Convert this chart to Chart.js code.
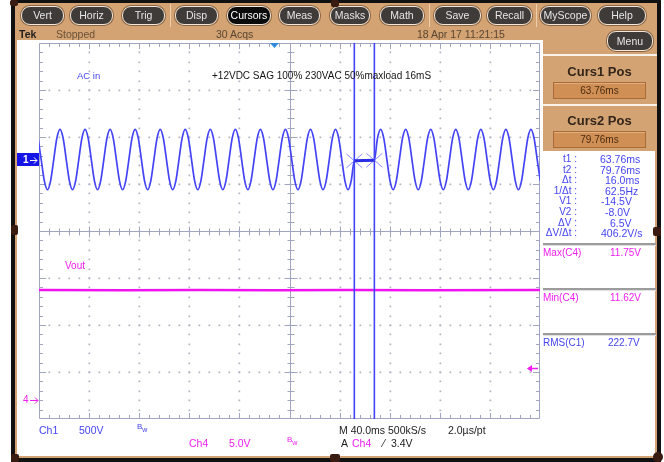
<!DOCTYPE html>
<html>
<head>
<meta charset="utf-8">
<title>Scope capture – 12VDC sag test</title>
<script src="https://cdn.jsdelivr.net/npm/chart.js@4.4.1/dist/chart.umd.min.js"></script>
<style>
  html, body { margin: 0; padding: 0; background: #fff; }
  #scope { position: relative; width: 664px; height: 462px; overflow: hidden; background: #fff;
           font-family: "Liberation Sans", Arial, sans-serif; }
  .blk { position: absolute; }
  #plot { position: absolute; left: 0; top: 0; z-index: 2; }
  .t { position: absolute; z-index: 3; white-space: nowrap; line-height: 1; }
  .btn { position: absolute; top: 6px; height: 19px; box-sizing: border-box; border-radius: 9px;
         background: #3f3b38; border: 1px solid #f4e8dc; color: #e6e6e6; font-size: 10.5px;
         line-height: 17px; text-align: center; z-index: 3; box-shadow: 0 0 0 1px #8a6440; }
  .btn.on { background: #0b0b0b; color: #fff; }
  .sep { position: absolute; top: 4px; width: 1px; height: 23px; background: #efcfaa; z-index: 3; }
  .rv { position: absolute; background: #3a1b12; border-radius: 2px; z-index: 4; }
  .blue { color: #4545f2; }
  .mag { color: #f01ef0; }
  .stat { font-size: 10.5px; color: #5a4631; }
  .lab { font-size: 10px; text-align: right; right: 87px; }
  .val { font-size: 10.5px; }
  .hdr { font-size: 13px; font-weight: bold; color: #33251a; width: 113px; left: 543px; text-align: center; }
  .vbox { position: absolute; left: 553px; width: 93px; height: 17px; box-sizing: border-box;
          background: #d08f55; border: 1px solid #a96c38; box-shadow: inset 0 1px 0 #e2ae7e;
          color: #4a2b10; font-size: 10px; line-height: 15px; text-align: center; z-index: 3; }
  .hline { position: absolute; left: 543px; width: 113px; height: 2px; background: #9c9c9c;
           border-bottom: 1px solid #e0e0e0; z-index: 3; }
</style>
</head>
<body>
<div id="scope">
  <!-- bezel and panels -->
  <div class="blk" style="left:11px;top:0;width:650px;height:40px;background:#d3a373"></div>
  <div class="blk" style="left:543px;top:40px;width:114px;height:111px;background:#d3a373"></div>
  <div class="blk" style="left:543px;top:54px;width:114px;height:2px;background:#fbf3ea"></div>
  <div class="blk" style="left:543px;top:104px;width:114px;height:2px;background:#fbf3ea"></div>
  <div class="blk" style="left:11px;top:0;width:650px;height:3px;background:#111"></div>
  <div class="blk" style="left:11px;top:0;width:4px;height:462px;background:#111"></div>
  <div class="blk" style="left:15px;top:40px;width:2px;height:418px;background:#d3a373"></div>
  <div class="blk" style="left:657px;top:0;width:4px;height:462px;background:#111"></div>
  <div class="blk" style="left:655px;top:151px;width:2px;height:307px;background:#d3a373"></div>
  <div class="blk" style="left:15px;top:456px;width:642px;height:2px;background:#d3a373"></div>
  <div class="blk" style="left:11px;top:458px;width:650px;height:4px;background:#111"></div>

  <div class="rv" style="left:10px;top:0;width:8px;height:6px"></div>
  <div class="rv" style="left:331px;top:0;width:8px;height:7px"></div>
  <div class="rv" style="left:11px;top:225px;width:7px;height:10px"></div>
  <div class="rv" style="left:653px;top:227px;width:8px;height:9px"></div>
  <div class="rv" style="left:11px;top:454px;width:8px;height:8px"></div>
  <div class="rv" style="left:330px;top:454px;width:10px;height:8px"></div>
  <div class="rv" style="left:653px;top:452px;width:10px;height:10px;border-radius:5px"></div>

  <!-- toolbar -->
  <div class="btn" style="left:21px;width:43px">Vert</div>
  <div class="btn" style="left:70px;width:43px">Horiz</div>
  <div class="btn" style="left:122px;width:43px">Trig</div>
  <div class="sep" style="left:170px"></div>
  <div class="btn" style="left:175px;width:43px">Disp</div>
  <div class="btn on" style="left:227px;width:44px">Cursors</div>
  <div class="btn" style="left:279px;width:41px">Meas</div>
  <div class="btn" style="left:330px;width:40px">Masks</div>
  <div class="btn" style="left:380px;width:44px">Math</div>
  <div class="sep" style="left:429px"></div>
  <div class="btn" style="left:434px;width:47px">Save</div>
  <div class="btn" style="left:487px;width:45px">Recall</div>
  <div class="sep" style="left:536px"></div>
  <div class="btn" style="left:540px;width:51px">MyScope</div>
  <div class="btn" style="left:598px;width:48px">Help</div>
  <div class="btn" style="left:607px;top:31px;width:46px;height:20px;line-height:18px">Menu</div>

  <!-- status row -->
  <div class="t stat" style="left:19px;top:29px;color:#1e1e1e;font-weight:bold">Tek</div>
  <div class="t stat" style="left:56px;top:29px;color:#6a5238">Stopped</div>
  <div class="t stat" style="left:216px;top:29px">30 Acqs</div>
  <div class="t stat" style="left:417px;top:29px">18 Apr 17 11:21:15</div>

  <!-- cursor panel -->
  <div class="t hdr" style="top:65px">Curs1 Pos</div>
  <div class="vbox" style="top:82px">63.76ms</div>
  <div class="t hdr" style="top:114px">Curs2 Pos</div>
  <div class="vbox" style="top:131px">79.76ms</div>

  <div class="t blue lab" style="top:154px">t1 :</div>
  <div class="t blue lab" style="top:164.6px">t2 :</div>
  <div class="t blue lab" style="top:175.2px">Δt :</div>
  <div class="t blue lab" style="top:185.8px">1/Δt :</div>
  <div class="t blue lab" style="top:196.4px">V1 :</div>
  <div class="t blue lab" style="top:207px">V2 :</div>
  <div class="t blue lab" style="top:217.6px">ΔV :</div>
  <div class="t blue lab" style="top:228.2px">ΔV/Δt :</div>
  <div class="t blue val" style="left:600px;top:154px">63.76ms</div>
  <div class="t blue val" style="left:600px;top:164.6px">79.76ms</div>
  <div class="t blue val" style="left:605px;top:175.2px">16.0ms</div>
  <div class="t blue val" style="left:605px;top:185.8px">62.5Hz</div>
  <div class="t blue val" style="left:601px;top:196.4px">-14.5V</div>
  <div class="t blue val" style="left:605px;top:207px">-8.0V</div>
  <div class="t blue val" style="left:610px;top:217.6px">6.5V</div>
  <div class="t blue val" style="left:601px;top:228.2px">406.2V/s</div>

  <div class="hline" style="top:243px"></div>
  <div class="t mag val" style="left:543px;top:248px;font-size:10px">Max(C4)</div>
  <div class="t mag val" style="left:610px;top:248px;font-size:10px">11.75V</div>
  <div class="hline" style="top:288px"></div>
  <div class="t mag val" style="left:543px;top:293px;font-size:10px">Min(C4)</div>
  <div class="t mag val" style="left:610px;top:293px;font-size:10px">11.62V</div>
  <div class="hline" style="top:333px"></div>
  <div class="t blue val" style="left:543px;top:338px;font-size:10px">RMS(C1)</div>
  <div class="t blue val" style="left:608px;top:338px;font-size:10px">222.7V</div>

  <!-- trace annotations -->
  <div class="t blue" style="left:77px;top:71px;font-size:9.5px">AC in</div>
  <div class="t" style="left:212px;top:71px;font-size:10px;color:#151515">+12VDC SAG 100% 230VAC 50%maxload 16mS</div>
  <div class="t mag" style="left:65px;top:261px;font-size:10px">Vout</div>

  <!-- channel / timebase readouts -->
  <div class="t blue" style="left:39px;top:425px;font-size:10.5px">Ch1</div>
  <div class="t blue" style="left:79px;top:425px;font-size:10.5px">500V</div>
  <div class="t blue" style="left:137px;top:423px;font-size:8px">B<sub style="font-size:7px">w</sub></div>
  <div class="t mag" style="left:189px;top:438px;font-size:10.5px">Ch4</div>
  <div class="t mag" style="left:229px;top:438px;font-size:10.5px">5.0V</div>
  <div class="t mag" style="left:287px;top:436px;font-size:8px">B<sub style="font-size:7px">w</sub></div>
  <div class="t" style="left:339px;top:425px;font-size:10.5px;color:#222">M 40.0ms 500kS/s</div>
  <div class="t" style="left:448px;top:425px;font-size:10.5px;color:#222">2.0µs/pt</div>
  <div class="t" style="left:341px;top:438px;font-size:10.5px;color:#222">A</div>
  <div class="t mag" style="left:352px;top:438px;font-size:10.5px">Ch4</div>
  <div class="t" style="left:383px;top:438px;font-size:10.5px;color:#222">⁄</div>
  <div class="t" style="left:391px;top:438px;font-size:10.5px;color:#222">3.4V</div>

  <canvas id="plot" width="664" height="462"></canvas>
</div>

<script>
// ---- acquisition record -------------------------------------------------
// Ch1 (AC input, volts) stored every 2.5 ms; line drops out between the cursors
const sampleMs = 2.5;
const acBeforeStart = -188.74;
const acBefore = [
  227, 0, -227, -321, -227,
  0, 227, 321, 227, 0, -227, -321, -227,
  0, 227, 321, 227, 0, -227, -321, -227,
  0, 227, 321, 227, 0, -227, -321, -227,
  0, 227, 321, 227, 0, -227, -321, -227,
  0, 227, 321, 227, 0, -227, -321, -227,
  0, 227, 321, 227, 0, -227, -321, -227,
  0, 227, 321, 227, 0, -227, -321, -227,
  0, 227, 321, 227, 0, -227, -321, -227,
  0, 227, 321, 227, 0, -227, -321, -227,
  0, 227, 321, 227, 0, -227, -321, -227,
  0, 227, 321, 227, 0, -227, -321, -227,
  0, 227, 321, 227, 0, -227, -321, -227,
  -14.5
];
const gapTimes = [67.76, 71.76, 75.76];
const gapVolts = [-13.2, -11.6, -9.9];
const acAfterStart = 79.76;
const acAfter = [
  -8.0, 227, 321, 227, 0, -227, -321, -227,
  0, 227, 321, 227, 0, -227, -321, -227,
  0, 227, 321, 227, 0, -227, -321, -227,
  0, 227, 321, 227, 0, -227, -321, -227,
  0, 227, 321, 227, 0, -227, -321, -227,
  0, 227, 321, 227, 0, -227, -321, -227,
  0, 227, 321, 227, 0, -227
];

// Ch4 (12 V output, volts)
const voutTimes = [-188, -120, -60, 0, 60, 120, 212];
const voutVolts = [11.70, 11.68, 11.71, 11.69, 11.70, 11.68, 11.70];

// cursors (ms, volts on Ch1), trigger (ms, Ch4 level)
const cursorTimes = [63.76, 79.76];
const cursorVolts = [-14.5, -8.0];
const triggerTime = 0;
const triggerLevel = 3.4;

// vertical settings: volts per division and screen position of each ground
const ch1Range = [-2760.6, 1239.4];   // 500 V/div
const ch4Range = [-2.02, 37.98];      // 5 V/div
const timeRange = [-188, 212];        // 40 ms/div

const acPoints = [
  ...acBefore.map((v, i) => ({ x: acBeforeStart + i * sampleMs, y: v })),
  ...gapTimes.map((t, i) => ({ x: t, y: gapVolts[i] })),
  ...acAfter.map((v, i) => ({ x: acAfterStart + i * sampleMs, y: v }))
];
const voutPoints = voutTimes.map((t, i) => ({ x: t, y: voutVolts[i] }));

// ---- graticule: 10 x 8 divisions, dotted lines, rulers with minor ticks ----
const graticule = {
  id: 'graticule',
  beforeDatasetsDraw(chart) {
    const { ctx, chartArea: a } = chart;
    const dx = (a.right - a.left) / 10, dy = (a.bottom - a.top) / 8;
    const cx = Math.round(a.left + 5 * dx) + 0.5, cy = Math.round(a.top + 4 * dy) + 0.5;
    ctx.save();
    ctx.fillStyle = '#b0b3c0';
    for (let i = 1; i < 10; i++) {
      if (i === 5) continue;
      const x = Math.round(a.left + i * dx);
      for (let j = 1; j < 40; j++) ctx.fillRect(x - 0.5, Math.round(a.top + j * dy / 5) - 0.5, 1.7, 1.7);
    }
    for (let j = 1; j < 8; j++) {
      if (j === 4) continue;
      const y = Math.round(a.top + j * dy);
      for (let i = 1; i < 50; i++) ctx.fillRect(Math.round(a.left + i * dx / 5) - 0.5, y - 0.5, 1.7, 1.7);
    }
    ctx.strokeStyle = '#a0a6c2';
    ctx.lineWidth = 1;
    ctx.beginPath();
    ctx.rect(a.left + 0.5, a.top + 0.5, a.right - a.left - 1, a.bottom - a.top - 1);
    ctx.moveTo(cx, a.top); ctx.lineTo(cx, a.bottom);
    ctx.moveTo(a.left, cy); ctx.lineTo(a.right, cy);
    for (let i = 1; i < 50; i++) {
      const x = Math.round(a.left + i * dx / 5) + 0.5;
      const len = i % 5 === 0 ? 6 : 4;
      ctx.moveTo(x, a.top); ctx.lineTo(x, a.top + len);
      ctx.moveTo(x, a.bottom); ctx.lineTo(x, a.bottom - len);
      ctx.moveTo(x, cy - len + 1); ctx.lineTo(x, cy + len);
    }
    for (let j = 1; j < 40; j++) {
      const y = Math.round(a.top + j * dy / 5) + 0.5;
      const len = j % 5 === 0 ? 7 : 4;
      ctx.moveTo(a.left, y); ctx.lineTo(a.left + len, y);
      ctx.moveTo(a.right, y); ctx.lineTo(a.right - len, y);
      ctx.moveTo(cx - len + 1, y); ctx.lineTo(cx + len, y);
    }
    ctx.stroke();
    ctx.restore();
  }
};

// ---- cursors, trigger and channel markers --------------------------------
const overlays = {
  id: 'overlays',
  afterDatasetsDraw(chart) {
    const { ctx, chartArea: a, scales } = chart;
    const xs = scales.x, y1 = scales.y1, y4 = scales.y4;
    const px = cursorTimes.map(t => xs.getPixelForValue(t));
    const py = cursorVolts.map(v => y1.getPixelForValue(v));
    ctx.save();

    // cursor crosses on the waveform
    ctx.strokeStyle = 'rgba(120,120,255,0.85)';
    ctx.lineWidth = 1;
    ctx.beginPath();
    px.forEach((x, i) => {
      const y = py[i];
      ctx.moveTo(x - 8, y - 7); ctx.lineTo(x + 8, y + 7);
      ctx.moveTo(x - 8, y + 7); ctx.lineTo(x + 8, y - 7);
    });
    ctx.stroke();
    ctx.strokeStyle = '#2c2ce6';
    ctx.lineWidth = 3;
    ctx.beginPath();
    ctx.moveTo(px[0], py[0]); ctx.lineTo(px[1], py[1]);
    ctx.stroke();

    // vertical cursor bars
    ctx.strokeStyle = '#4343f8';
    ctx.lineWidth = 1.6;
    ctx.beginPath();
    px.forEach(x => { ctx.moveTo(x, a.top); ctx.lineTo(x, a.bottom); });
    ctx.stroke();

    // trigger position
    const tx = xs.getPixelForValue(triggerTime);
    ctx.fillStyle = '#2f8be0';
    ctx.beginPath();
    ctx.moveTo(tx - 4.5, a.top); ctx.lineTo(tx + 4.5, a.top); ctx.lineTo(tx, a.top + 5);
    ctx.closePath(); ctx.fill();

    // Ch1 ground marker
    const g1 = Math.round(y1.getPixelForValue(0));
    ctx.fillStyle = '#1515e8';
    ctx.fillRect(17, g1 - 7, 22, 13);
    ctx.fillStyle = '#ffffff';
    ctx.font = 'bold 10px "Liberation Sans", Arial, sans-serif';
    ctx.textBaseline = 'middle';
    ctx.fillText('1', 23, g1);
    ctx.strokeStyle = '#ffffff';
    ctx.lineWidth = 1;
    ctx.beginPath();
    ctx.moveTo(30, g1 + 0.5); ctx.lineTo(37, g1 + 0.5);
    ctx.moveTo(34, g1 - 2.5); ctx.lineTo(37, g1 + 0.5); ctx.lineTo(34, g1 + 3.5);
    ctx.stroke();

    // Ch4 ground marker
    const g4 = Math.round(y4.getPixelForValue(0));
    ctx.fillStyle = '#f01ef0';
    ctx.font = '10px "Liberation Sans", Arial, sans-serif';
    ctx.fillText('4', 23, g4);
    ctx.strokeStyle = '#f01ef0';
    ctx.beginPath();
    ctx.moveTo(30, g4 + 0.5); ctx.lineTo(38, g4 + 0.5);
    ctx.moveTo(35, g4 - 2.5); ctx.lineTo(38, g4 + 0.5); ctx.lineTo(35, g4 + 3.5);
    ctx.stroke();

    // Ch4 trigger level
    const tl = Math.round(y4.getPixelForValue(triggerLevel)) + 0.5;
    ctx.lineWidth = 1.5;
    ctx.beginPath();
    ctx.moveTo(a.right - 12, tl); ctx.lineTo(a.right - 2, tl);
    ctx.stroke();
    ctx.beginPath();
    ctx.moveTo(a.right - 13, tl); ctx.lineTo(a.right - 8, tl - 3.5); ctx.lineTo(a.right - 8, tl + 3.5);
    ctx.closePath(); ctx.fill();

    ctx.restore();
  }
};

new Chart(document.getElementById('plot'), {
  type: 'line',
  data: {
    datasets: [
      { label: 'Ch1', data: acPoints, yAxisID: 'y1', borderColor: '#4444f6', borderWidth: 1.7,
        pointRadius: 0, cubicInterpolationMode: 'monotone', fill: false },
      { label: 'Ch4', data: voutPoints, yAxisID: 'y4', borderColor: '#ef14ef', borderWidth: 2.5,
        pointRadius: 0, tension: 0, fill: false }
    ]
  },
  options: {
    responsive: false,
    animation: false,
    devicePixelRatio: 1,
    events: [],
    layout: { padding: { left: 39, top: 43, right: 124, bottom: 43 } },
    plugins: { legend: { display: false }, tooltip: { enabled: false } },
    scales: {
      x: { type: 'linear', min: timeRange[0], max: timeRange[1], display: false },
      y1: { type: 'linear', min: ch1Range[0], max: ch1Range[1], display: false },
      y4: { type: 'linear', min: ch4Range[0], max: ch4Range[1], display: false }
    }
  },
  plugins: [graticule, overlays]
});
</script>
</body>
</html>
